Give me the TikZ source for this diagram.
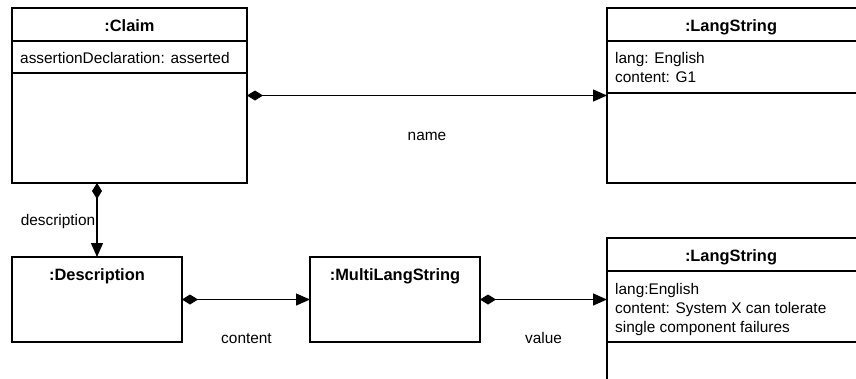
\documentclass[tikz,border=0pt]{standalone}
\usepackage{fontspec}
\setmainfont{Liberation Sans}
\usetikzlibrary{arrows.meta}
\tikzset{
  umlbox/.style={draw=black, line width=1.2pt, rectangle, anchor=north west, inner sep=0pt, outer sep=0pt},
  ttl/.style={font=\fontsize{16.4}{19}\selectfont\bfseries, inner sep=0pt, anchor=base},
  attr/.style={font=\fontsize{15.4}{19}\selectfont, inner sep=0pt, anchor=base west, align=left},
  lbl/.style={font=\fontsize{15.4}{19}\selectfont, inner sep=0pt, anchor=base},
  divider/.style={line width=1.2pt},
  comp/.style={line width=1.2pt, {Diamond[length=16pt,width=10pt]}-{Triangle[length=14pt,width=12pt]}},
}
\begin{document}
\begin{tikzpicture}[x=1pt,y=-1pt]
\clip (0,0) rectangle (856,378);
% boxes
\node[umlbox, minimum width=235pt, minimum height=175pt] (claim) at (12,8) {};
\node[umlbox, minimum width=260pt, minimum height=175pt] (ls1) at (607,8) {};
\node[umlbox, minimum width=170pt, minimum height=85pt] (desc) at (12,257) {};
\node[umlbox, minimum width=170pt, minimum height=85pt] (multi) at (310,257) {};
\node[umlbox, minimum width=260pt, minimum height=160pt] (ls2) at (607,238) {};
% dividers
\draw[divider] ([yshift=-33pt]claim.north west) -- ([yshift=-33pt]claim.north east);
\draw[divider] ([yshift=-65pt]claim.north west) -- ([yshift=-65pt]claim.north east);
\draw[divider] ([yshift=-33pt]ls1.north west) -- ([yshift=-33pt]ls1.north east);
\draw[divider] ([yshift=-85pt]ls1.north west) -- ([yshift=-85pt]ls1.north east);
\draw[divider] ([yshift=-33pt]ls2.north west) -- ([yshift=-33pt]ls2.north east);
\draw[divider] ([yshift=-104pt]ls2.north west) -- ([yshift=-104pt]ls2.north east);
% titles
\node[ttl] (claimT) at (129.5,31.5) {:Claim};
\node[ttl] (ls1T) at (731,31.5) {:LangString};
\node[ttl] (descT) at (97,280) {:Description};
\node[ttl] (multiT) at (395,280) {:MultiLangString};
\node[ttl] (ls2T) at (731,261.5) {:LangString};
% attributes
\node[attr] (claimA) at (20,63) {assertionDeclaration: asserted};
\node[attr] (ls1A) at (615,63.5) {lang: English};
\node[attr] (ls1B) at (615,82.5) {content: G1};
\node[attr] (ls2A) at (615,294) {lang:English};
\node[attr] (ls2B) at (615,313) {content: System X can tolerate};
\node[attr] (ls2C) at (615,332) {single component failures};
% connectors
\draw[comp] (claim.east) -- (ls1.west |- claim.east);
\draw[comp] (claim.south -| desc.north) -- (desc.north);
\draw[comp] (desc.east) -- (multi.west);
\draw[comp] (multi.east) -- (ls2.west |- multi.east);
% labels
\node[lbl] (nameL) at (427,140.5) {name};
\node[lbl] (descL) at (58,225) {description};
\node[lbl] (contentL) at (246.5,343) {content};
\node[lbl] (valueL) at (543.5,343) {value};
\end{tikzpicture}
\end{document}
